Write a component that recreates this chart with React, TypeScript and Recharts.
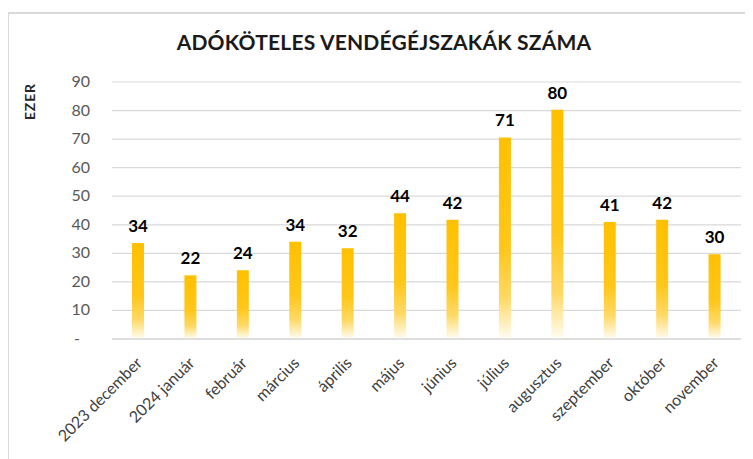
import React from 'react';
import { BarChart, Bar, XAxis, YAxis, CartesianGrid, LabelList } from 'recharts';

const months = [
  '2023 december', '2024 január', 'február', 'március', 'április', 'május',
  'június', 'július', 'augusztus', 'szeptember', 'október', 'november',
];
const nights = [33.6, 22.3, 24.1, 34.1, 31.8, 44.0, 41.8, 70.6, 80.3, 41.0, 41.8, 29.7];
const yTicks = [0, 10, 20, 30, 40, 50, 60, 70, 80, 90];

const data = months.map((m, i) => ({ month: m, value: nights[i] }));

const FONT = 'Lato, "Open Sans", sans-serif';

const MonthTick = ({ x, y, payload }: any) => (
  <g transform={`translate(${x + 5},${y + 17})`}>
    <text transform="rotate(-45)" textAnchor="end" fill="#404040" fontSize={16} fontFamily={FONT}>
      {payload.value}
    </text>
  </g>
);

const ValueTick = ({ x, y, payload }: any) => (
  <text
    x={payload.value === 0 ? x - 10 : x}
    y={y}
    dy={5}
    textAnchor="end"
    fill="#595959"
    fontSize={16}
    fontFamily={FONT}
  >
    {payload.value === 0 ? '-' : payload.value}
  </text>
);

const App = () => {
  return (
    <div style={{ position: 'relative', width: 745, height: 451, overflow: 'hidden', background: '#fff' }}>
      <div
        style={{
          position: 'absolute', left: -1, top: 4, width: 800, height: 500,
          border: '2px solid #d9d9d9', boxSizing: 'border-box',
        }}
      />
      <div
        style={{
          position: 'absolute', left: 0, top: 21, width: 752, textAlign: 'center',
          fontFamily: FONT, fontWeight: 700, fontSize: 21, color: '#1a1a1a', letterSpacing: 0.2,
        }}
      >
        ADÓKÖTELES VENDÉGÉJSZAKÁK SZÁMA
      </div>
      <div
        style={{
          position: 'absolute', left: 14, top: 82, fontFamily: FONT, fontWeight: 700,
          fontSize: 14, color: '#262626', transform: 'rotate(-90deg)', transformOrigin: 'left top',
          whiteSpace: 'nowrap', letterSpacing: 0.8, lineHeight: '16px',
        }}
      >
        <span style={{ position: 'absolute', left: -30, top: 0 }}>EZER</span>
      </div>
      <BarChart
        width={745}
        height={451}
        data={data}
        margin={{ top: 74, right: 12, left: 0, bottom: 0 }}
        style={{ position: 'absolute', left: 0, top: 0 }}
      >
        <defs>
          <linearGradient id="barFill" x1="0" y1="0" x2="0" y2="1">
            <stop offset="0%" stopColor="#FFC000" />
            <stop offset="55%" stopColor="#FFC71A" />
            <stop offset="80%" stopColor="#FFD966" />
            <stop offset="100%" stopColor="#FFFDF5" />
          </linearGradient>
        </defs>
        <CartesianGrid vertical={false} stroke="#d9d9d9" strokeWidth={1.2} />
        <XAxis
          dataKey="month"
          interval={0}
          height={120}
          tickLine={false}
          axisLine={{ stroke: '#d9d9d9', strokeWidth: 1.5 }}
          tick={<MonthTick />}
        />
        <YAxis
          domain={[0, 90]}
          ticks={yTicks}
          width={104}
          tickSize={0}
          tickMargin={22}
          axisLine={false}
          tickLine={false}
          tick={<ValueTick />}
        />
        <Bar dataKey="value" fill="url(#barFill)" barSize={12} isAnimationActive={false}>
          <LabelList
            dataKey="value"
            position="top"
            offset={11}
            formatter={(v: any) => Math.round(v)}
            fill="#000"
            fontSize={17}
            fontWeight={700}
            fontFamily={FONT}
          />
        </Bar>
      </BarChart>
    </div>
  );
};

export default App;
